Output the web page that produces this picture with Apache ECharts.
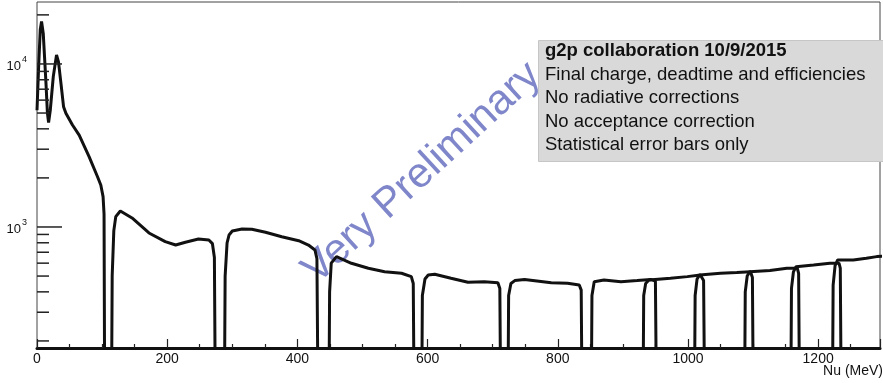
<!DOCTYPE html>
<html>
<head>
<meta charset="utf-8">
<script src="https://cdn.jsdelivr.net/npm/echarts@6/dist/echarts.min.js"></script>
<style>
  html, body { margin: 0; padding: 0; background: #fff; }
  #chart { width: 883px; height: 383px; }
</style>
</head>
<body>
<div id="chart"></div>
<script>
// counts vs Nu (MeV), one array per momentum setting
const seg1 = [[0, 5200], [2.5, 9600], [5, 16200], [7, 18200], [9.6, 15400], [13.8, 7600], [16, 5000], [17.8, 4370],
  [20.4, 5200], [25, 8360], [30, 11350], [33, 10300], [36.8, 7600], [40.8, 5470], [44.4, 4980], [54.5, 4220],
  [64.8, 3660], [80, 2700], [92.8, 2040], [98, 1810], [101.5, 1535], [103, 1200], [104.5, 20]]
const seg2 = [[113.5, 20], [115.5, 500], [118, 950], [121, 1157], [128, 1254], [146, 1136], [172, 919], [197, 813],
  [213, 775], [228, 806], [248, 844], [264, 832], [269.5, 790], [272.5, 650], [275, 20]]
const seg3 = [[287, 20], [289, 500], [292, 800], [295, 893], [300, 944], [315, 972], [330, 968], [351, 928],
  [376, 872], [402, 824], [417, 775], [427, 723], [430, 640], [433, 20]]
const seg4 = [[447.5, 20], [449.5, 400], [452, 600], [460, 658], [483, 599], [509, 558], [534, 532], [560, 520],
  [575, 496], [578, 450], [580.5, 20]]
const seg5 = [[590, 20], [592, 380], [596, 480], [601, 508], [611, 513], [636, 485], [662, 458], [687, 462],
  [708, 455], [711, 420], [713.5, 20]]
const seg6 = [[722.5, 20], [724.5, 380], [728, 450], [734, 469], [749, 477], [790, 455], [815, 452], [833, 441],
  [836, 410], [838.5, 20]]
const seg7 = [[850.5, 20], [852.5, 380], [856, 462], [871, 473], [897, 462], [922, 469], [943, 477], [950, 465],
  [953, 20]]
const seg8 = [[930, 20], [932, 380], [935, 450], [940, 473], [973, 485], [999, 496], [1019, 508], [1024, 470],
  [1027, 20]]
const seg9 = [[1009, 20], [1011, 380], [1014, 480], [1018, 508], [1050, 520], [1075, 525], [1096, 532],
  [1099, 490], [1101.5, 20]]
const seg10 = [[1086, 20], [1088, 400], [1091, 500], [1095, 532], [1126, 540], [1152, 558], [1168, 558],
  [1170, 520], [1172.5, 20]]
const seg11 = [[1157, 20], [1159, 420], [1162, 530], [1166, 571], [1193, 585], [1218, 599], [1232, 600],
  [1234, 560], [1236.5, 20]]
const seg12 = [[1221, 20], [1223, 440], [1226, 580], [1230, 628], [1254, 628], [1274, 643], [1290, 658], [1300, 662]]

const segments = [seg1, seg2, seg3, seg4, seg5, seg6, seg7, seg8, seg9, seg10, seg11, seg12]

// y axis ticks (log)
const yMajorTicks = [1000, 10000]
const yMinorTicks = [200, 300, 400, 500, 600, 700, 800, 900, 2000, 3000, 4000, 5000, 6000, 7000, 8000, 9000, 20000]

const infoLines = [
  'g2p collaboration 10/9/2015',
  'Final charge, deadtime and efficiencies',
  'No radiative corrections',
  'No acceptance correction',
  'Statistical error bars only'
]

const chart = echarts.init(document.getElementById('chart'), null, { renderer: 'canvas' })

let series = []
segments.forEach(function (seg, idx) {
  series.push({
    type: 'line',
    name: 'set' + idx,
    data: seg,
    showSymbol: false,
    symbol: 'none',
    clip: true,
    silent: true,
    lineStyle: { color: '#111', width: 3 },
    z: 3
  })
})

// ROOT-like ticks on the log axis, placed with the axis scale
const tickData = yMajorTicks.map(v => [0, v, 1]).concat(yMinorTicks.map(v => [0, v, 0]))
series.push({
  type: 'custom',
  data: tickData,
  silent: true,
  clip: false,
  z: 4,
  renderItem: function (params, api) {
    const p = api.coord([api.value(0), api.value(1)])
    const len = api.value(2) ? 25 : 12
    return {
      type: 'line',
      shape: { x1: p[0], y1: p[1], x2: p[0] + len, y2: p[1] },
      style: { stroke: '#222', lineWidth: 1.5 }
    }
  }
})

let graphic = [
  {
    type: 'rect',
    z: 1,
    shape: { x: 538.5, y: 40.5, width: 350, height: 121 },
    style: { fill: '#d9d9d9', stroke: '#c6c6c6', lineWidth: 1 }
  },
  {
    type: 'text',
    z: 2,
    x: 422,
    y: 173,
    rotation: 42.5 * Math.PI / 180,
    style: {
      text: 'Very Preliminary',
      fill: '#7f86c9',
      font: '42px "Liberation Sans", Arial, sans-serif',
      align: 'center',
      verticalAlign: 'middle'
    }
  },
  {
    type: 'text',
    z: 2,
    right: 0,
    top: 364,
    style: {
      text: 'Nu (MeV)',
      fill: '#111',
      font: '14px "Liberation Sans", Arial, sans-serif'
    }
  }
]
const lineY = [51, 74.5, 98, 121.5, 145]
infoLines.forEach(function (txt, i) {
  graphic.push({
    type: 'text',
    z: 3,
    x: 545,
    y: lineY[i],
    style: {
      text: txt,
      fill: '#111',
      font: (i === 0 ? 'bold ' : '') + '18.5px "Liberation Sans", Arial, sans-serif',
      align: 'left',
      verticalAlign: 'middle'
    }
  })
})

const option = {
  animation: false,
  backgroundColor: '#fff',
  grid: {
    left: 37,
    right: 0,
    top: 2,
    bottom: 35,
    show: true,
    borderColor: '#444',
    borderWidth: 1,
    containLabel: false
  },
  xAxis: {
    type: 'value',
    min: 0,
    max: 1295,
    interval: 200,
    axisLine: { show: true, onZero: false, lineStyle: { color: '#111', width: 3 } },
    axisTick: { show: true, inside: true, length: 9, lineStyle: { color: '#222', width: 1.2 } },
    minorTick: { show: true, splitNumber: 4, length: 4, lineStyle: { color: '#222', width: 1.2 } },
    splitLine: { show: false },
    axisLabel: {
      margin: 4,
      color: '#111',
      fontSize: 14,
      fontFamily: '"Liberation Sans", Arial, sans-serif',
      formatter: function (v) { return v % 200 === 0 ? String(v) : '' }
    }
  },
  yAxis: {
    type: 'log',
    logBase: 10,
    min: 181,
    max: 23990,
    axisLine: { show: false },
    axisTick: { show: false },
    splitLine: { show: false },
    axisLabel: {
      margin: 10,
      color: '#111',
      fontFamily: '"Liberation Sans", Arial, sans-serif',
      formatter: function (v) {
        const e = Math.log10(v)
        if (Math.abs(e - Math.round(e)) > 1e-6) return ''
        return '{a|10}{b|' + Math.round(e) + '}'
      },
      rich: {
        a: { fontSize: 13, color: '#111', lineHeight: 18, verticalAlign: 'bottom', fontFamily: '"Liberation Sans", Arial, sans-serif' },
        b: { fontSize: 9, color: '#111', lineHeight: 18, verticalAlign: 'top', padding: [0, 0, 0, 1], fontFamily: '"Liberation Sans", Arial, sans-serif' }
      }
    }
  },
  series: series,
  graphic: graphic
}

option && chart.setOption(option)
</script>
</body>
</html>
